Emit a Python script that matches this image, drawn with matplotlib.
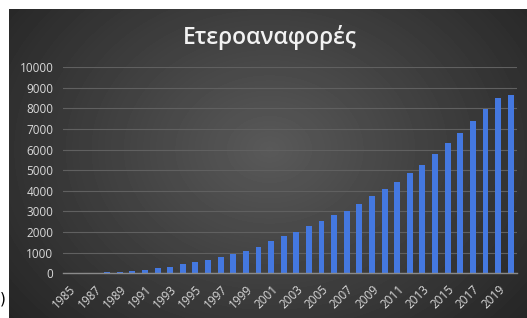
import numpy as np
import matplotlib
matplotlib.use("Agg")
import matplotlib.pyplot as plt

# data
years = list(range(1985, 2021))
counts = [0, 5, 15, 60, 80, 130, 165, 245, 295, 440, 545, 646, 777, 922, 1083,
          1291, 1568, 1796, 2019, 2282, 2539, 2830, 3030, 3350, 3737, 4107,
          4447, 4854, 5272, 5791, 6311, 6796, 7359, 7976, 8495, 8655]
yticks = list(range(0, 10001, 1000))
title = "Ετεροαναφορές"

W, H = 527, 318
fig = plt.figure(figsize=(W / 100, H / 100), dpi=100)
fig.patch.set_facecolor("white")

# dark panel with a radial gradient
bg = fig.add_axes([9 / W, 0, 518 / W, 309 / H])
bg.set_axis_off()
yy, xx = np.mgrid[0:309, 0:518]
r = np.sqrt(((xx - 260) / 330.0) ** 2 + ((yy - 140) / 260.0) ** 2)
shade = np.clip(0.35 - 0.20 * r, 0.14, 0.35)
bg.imshow(shade, cmap="gray", vmin=0, vmax=1, aspect="auto", interpolation="bilinear")

ax = fig.add_axes([63 / W, 1 - 273.3 / H, (517 - 63) / W, (273.3 - 67) / H])
ax.patch.set_alpha(0)
x = np.arange(len(years))
ax.bar(x, counts, width=0.47, color="#4478e0", zorder=3)
ax.set_xlim(-0.5, len(years) - 0.5)
ax.set_ylim(0, 10000)
ax.set_yticks(yticks)
ax.set_yticklabels([str(v) for v in yticks], fontsize=8.5, color="#d9d9d9", family="Open Sans")
ax.set_xticks(x[::2])
ax.set_xticklabels([str(y) for y in years[::2]], rotation=45, ha="right",
                   rotation_mode="anchor", fontsize=8.5, color="#d9d9d9", family="Open Sans")
ax.tick_params(axis="y", length=0, pad=7)
ax.tick_params(axis="x", length=0, pad=7)
ax.grid(axis="y", color="#606060", linewidth=0.8, zorder=0)
for s in ["top", "right", "left"]:
    ax.spines[s].set_visible(False)
ax.spines["bottom"].set_color("#8a8a8a")
ax.spines["bottom"].set_linewidth(1.0)
ax.spines["bottom"].set_zorder(4)

fig.text(270 / W, 1 - 37 / H, title, ha="center", va="center", fontsize=16.5,
         color="#f2f2f2", family="Open Sans", weight="semibold")
fig.text(0.0, 0.035, ")", ha="left", va="bottom", fontsize=11, color="black")

fig.savefig("out.png", dpi=100, facecolor=fig.get_facecolor())
